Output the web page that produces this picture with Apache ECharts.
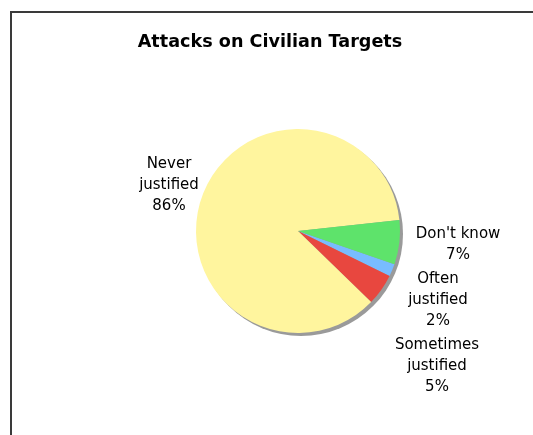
<!DOCTYPE html>
<html>
<head>
<meta charset="utf-8">
<style>
  html, body { margin: 0; padding: 0; background: #fff; }
  #chart { width: 533px; height: 435px; }
</style>
<script src="https://cdn.jsdelivr.net/npm/echarts@6/dist/echarts.min.js"></script>
</head>
<body>
<div id="chart"></div>
<script>
// Survey answers and their shares (percent)
const categories = ['Often justified', 'Sometimes justified', 'Never justified', "Don't know"];
const shares = [2, 5, 86, 7];
const sliceColors = ['#78BCFF', '#E8473F', '#FFF59E', '#5EE36B'];

// Label placement relative to the pie centre, per slice
const labelOffsets = [[140, 69], [139, 135], [-129, -46], [160, 14]];

const cx = 298, cy = 231, r = 102;

const chart = echarts.init(document.getElementById('chart'), null, { renderer: 'canvas' });

chart.setOption({
  backgroundColor: '#ffffff',
  animation: false,
  title: {
    text: 'Attacks on Civilian Targets',
    left: 265,
    top: 28,
    textAlign: 'center',
    textStyle: { fontFamily: 'DejaVu Sans', fontWeight: 'bold', fontSize: 17.6, color: '#000' }
  },
  graphic: [{
    type: 'polyline',
    shape: { points: [[11, 440], [11, 12], [540, 12]] },
    style: { stroke: '#3a3a3a', lineWidth: 2, fill: null },
    silent: true
  }],
  series: [
    {
      // drop shadow disc behind the pie
      type: 'pie',
      silent: true,
      center: [cx + 3, cy + 3],
      radius: r,
      label: { show: false },
      labelLine: { show: false },
      itemStyle: { color: '#9a9a9a' },
      data: [{ value: 1, name: '' }],
      z: 1
    },
    {
      type: 'pie',
      center: [cx, cy],
      radius: r,
      startAngle: -19,
      clockwise: true,
      z: 2,
      itemStyle: { borderWidth: 0 },
      emphasis: { disabled: true },
      labelLine: { show: false },
      label: {
        show: true,
        position: 'outside',
        overflow: 'none',
        fontFamily: 'DejaVu Sans',
        fontSize: 15,
        lineHeight: 21,
        color: '#000',
        align: 'center',
        formatter: p => p.name.replace(' justified', '\njustified') + '\n' + p.value + '%'
      },
      labelLayout: p => {
        const o = labelOffsets[p.dataIndex];
        return { x: cx + o[0], y: cy + o[1], align: 'center', verticalAlign: 'middle' };
      },
      data: categories.map((c, i) => ({ name: c, value: shares[i], itemStyle: { color: sliceColors[i] } }))
    }
  ]
});
</script>
</body>
</html>
